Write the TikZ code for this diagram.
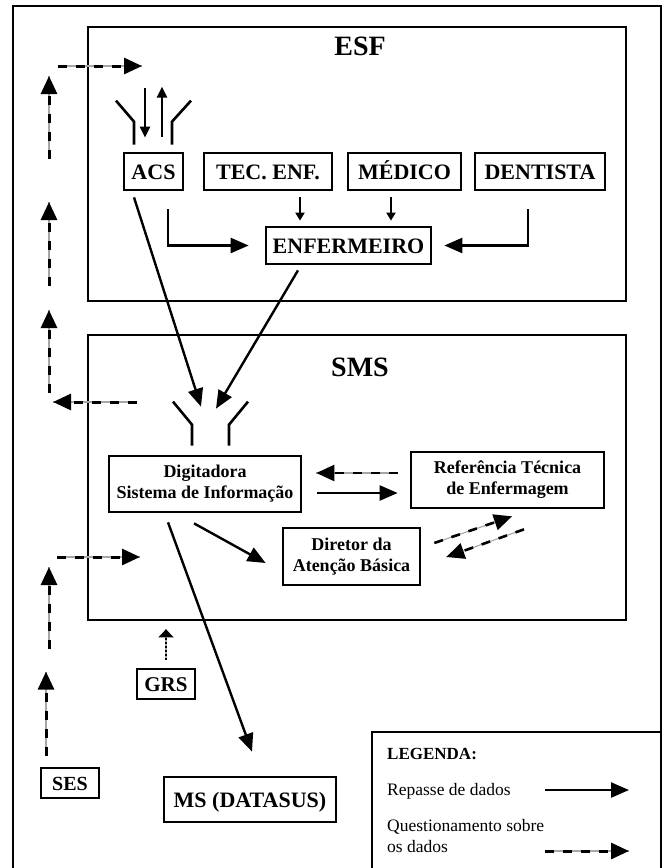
\documentclass[tikz,border=0pt]{standalone}
\usepackage{fontspec}
\setmainfont{Liberation Serif}
\usetikzlibrary{arrows.meta,calc}
\begin{document}
\begin{tikzpicture}[x=1pt,y=-1pt,
 box/.style={draw, line width=2.7pt, inner sep=0pt, font=\bfseries\fontsize{22}{24}\selectfont},
 onel/.style={text height=15pt, text depth=0pt},
 frame/.style={draw, line width=2.7pt, inner sep=0pt},
 smalltxt/.style={font=\bfseries\fontsize{18}{21}\selectfont, align=center},
 title/.style={font=\bfseries\fontsize{28}{30}\selectfont, anchor=base, inner sep=0pt},
 legtxt/.style={font=\fontsize{17.5}{20}\selectfont, anchor=base west, inner sep=0pt},
 funnel/.style={line width=2.6pt},
 data/.style={line width=2.4pt, -{Triangle[length=18pt,width=15pt]}},
 datasmall/.style={line width=2.2pt, -{Triangle[length=8pt,width=9pt]}},
 dataant/.style={line width=2.3pt, -{Triangle[length=11pt,width=10pt]}},
 quest/.style={line width=3pt, dash pattern=on 9pt off 9pt, -{Triangle[length=18pt,width=16pt]}, preaction={draw=black!35, line width=1.1pt, solid, -}},
 dotarrow/.style={line width=2.8pt, dash pattern=on 2pt off 2pt, -{Triangle[length=8pt,width=15pt]}, preaction={draw=black!35, line width=1.1pt, solid, -}},
]
\useasboundingbox (0,0) rectangle (666,868);
\clip (0,0) rectangle (666,868);

% outer frame
\draw[line width=2.7pt] (13,880) -- (13,6) -- (661,6) -- (661,880);

% frames
\node[frame, minimum width=538, minimum height=274] (esf) at (357,164) {};
\node[frame, minimum width=538, minimum height=285] (sms) at (357,477.5) {};
\node[title] (esfl) at (360,55) {ESF};
\node[title] (smsl) at (360,376) {SMS};

% ESF boxes
\node[box, onel, minimum width=59, minimum height=37] (acs) at (153.5,171.5) {ACS};
\node[box, onel, minimum width=128, minimum height=37] (tec) at (268,171.5) {TEC. ENF.};
\node[box, onel, minimum width=113, minimum height=37] (med) at (404.5,171.5) {MÉDICO};
\node[box, onel, minimum width=130, minimum height=37] (den) at (540,171.5) {DENTISTA};
\node[box, onel, minimum width=165, minimum height=37] (enf) at (348.5,245.5) {ENFERMEIRO};

% SMS boxes
\node[box, smalltxt, minimum width=192, minimum height=56] (dig) at (205,484) {Digitadora\\Sistema de Informação};
\node[box, smalltxt, minimum width=193, minimum height=56] (ref) at (507.5,480) {Referência Técnica\\de Enfermagem};
\node[box, smalltxt, minimum width=137, minimum height=57] (dir) at (351.5,556.5) {Diretor da\\Atenção Básica};

% outside boxes
\node[box, onel, font=\bfseries\fontsize{21}{23}\selectfont, minimum width=58, minimum height=30] (grs) at (166,684) {GRS};
\node[box, onel, font=\bfseries\fontsize{20}{22}\selectfont, minimum width=58, minimum height=30] (ses) at (70,783) {SES};
\node[box, onel, minimum width=172, minimum height=45] (ms) at (250,799.5) {MS (DATASUS)};

% legend
\draw[line width=2.7pt] (372,880) -- (372,732) -- (661,732);
\node[legtxt, font=\bfseries\fontsize{17}{20}\selectfont] (leg) at (387,759) {LEGENDA:};
\node[legtxt] (leg1) at (387,795) {Repasse de dados};
\node[legtxt] (leg2) at (387,831) {Questionamento sobre};
\node[legtxt] (leg3) at (387,852) {os dados};
\coordinate (l1a) at (545,790);
\coordinate (l1b) at (629,790);
\coordinate (l2a) at (545,851);
\coordinate (l2b) at (629,851);
\draw[data] (l1a) -- (l1b);
\draw[quest] (l2a) -- (l2b);

% ESF internal arrows
\draw[data, shorten <=18pt, shorten >=16pt] ($(acs.south)+(14.5,0)$) |- (enf.west);
\draw[data, shorten <=18pt, shorten >=12pt] ($(den.south)+(-12,0)$) |- (enf.east);
\coordinate (t1) at ($(tec.south)+(32,0)$);
\coordinate (m1) at ($(med.south)+(-13.5,0)$);
\draw[datasmall, shorten <=6pt, shorten >=5pt] (t1) -- (t1 |- enf.north);
\draw[datasmall, shorten <=6pt, shorten >=5pt] (m1) -- (m1 |- enf.north);

% ACS funnel and arrows
\draw[funnel] ($(acs.north)+(-37.5,-51)$) -- ($(acs.north)+(-19.5,-30)$) -- ($(acs.north)+(-19.5,-7)$);
\draw[funnel] ($(acs.north)+(37.5,-51)$) -- ($(acs.north)+(18.5,-30)$) -- ($(acs.north)+(18.5,-7)$);
\draw[dataant] ($(acs.north)+(-8.5,-64)$) -- ($(acs.north)+(-8.5,-14)$);
\draw[dataant] ($(acs.north)+(8.5,-15)$) -- ($(acs.north)+(8.5,-65)$);

% into SMS
\draw[data] ($(acs.south)+(-19.5,6)$) -- ($(dig.north)+(-4,-48)$);
\draw[data] ($(enf.south)+(-50.5,5)$) -- ($(dig.north)+(11,-46)$);

% Digitadora funnel
\draw[funnel] ($(dig.north)+(-32,-53)$) -- ($(dig.north)+(-13,-30)$) -- ($(dig.north)+(-13,-9)$);
\draw[funnel] ($(dig.north)+(43,-53)$) -- ($(dig.north)+(24,-30)$) -- ($(dig.north)+(24,-9)$);

% SMS internal arrows
\draw[quest, line width=2.4pt] ($(ref.west)+(-12,-7)$) -- ($(dig.east)+(14,-11)$);
\draw[data] ($(dig.east)+(15,9)$) -- ($(ref.west)+(-12,13)$);
\draw[data] ($(dig.south)+(-11,10)$) -- ($(dir.west)+(-16,6.5)$);
\draw[data] ($(dig.south)+(-37,9)$) -- ($(ms.north)+(2,-24)$);
\draw[quest, line width=2.6pt] ($(dir.east)+(13,-13.5)$) -- ($(ref.south)+(4.5,7)$);
\draw[quest, line width=2.6pt] ($(ref.south)+(16.5,20)$) -- ($(dir.east)+(25,0.5)$);

% GRS
\draw[dotarrow, shorten <=8pt, shorten >=8pt] (grs.north) -- (grs.north |- sms.south);

% left-side questioning chain
\coordinate (q1a) at (58,66);   \coordinate (q1b) at (142,66);
\coordinate (q2a) at (49,159);  \coordinate (q2b) at (49,76);
\coordinate (q3a) at (49,286);  \coordinate (q3b) at (49,202);
\coordinate (q4a) at (49,393);  \coordinate (q4b) at (49,310);
\coordinate (q5a) at (137,402); \coordinate (q5b) at (53,402);
\coordinate (q6a) at (57,557);  \coordinate (q6b) at (140,557);
\coordinate (q7a) at (49,649);  \coordinate (q7b) at (49,567);
\draw[quest] (q1a) -- (q1b);
\draw[quest] (q2a) -- (q2b);
\draw[quest] (q3a) -- (q3b);
\draw[quest] (q4a) -- (q4b);
\draw[quest] (q5a) -- (q5b);
\draw[quest] (q6a) -- (q6b);
\draw[quest] (q7a) -- (q7b);
\draw[quest] ($(ses.north)+(-24,-11)$) -- ($(ses.north)+(-24,-95)$);
\end{tikzpicture}
\end{document}
